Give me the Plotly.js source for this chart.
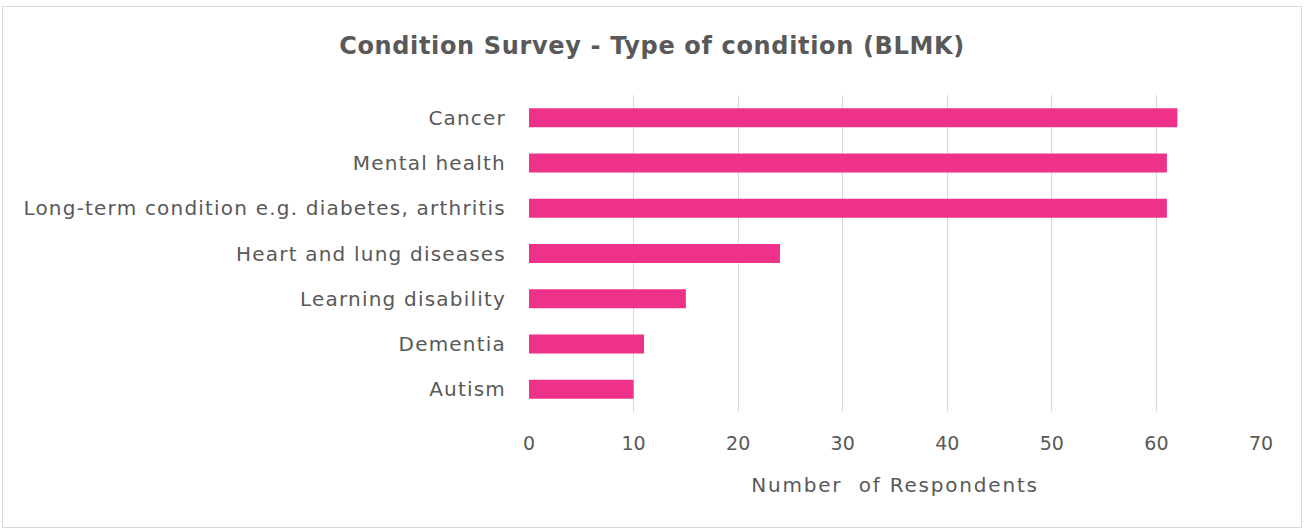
<!DOCTYPE html>
<html>
<head>
<meta charset="utf-8">
<script src="https://cdn.plot.ly/plotly-3.0.1.min.js"></script>
<style>
html,body{margin:0;padding:0;background:#fff;}
#wrap{position:relative;width:1304px;height:529px;}
#chart{position:absolute;left:0;top:0;width:1304px;height:529px;}
#frame{position:absolute;left:2px;top:6px;width:1298px;height:520px;border:1px solid #d9d9d9;pointer-events:none;}
#chart .ytick text{letter-spacing:1.2px;}
#chart .g-xtitle text{letter-spacing:1.8px;}
#chart .gtitle{letter-spacing:0.65px;}
</style>
</head>
<body>
<div id="wrap"><div id="chart"></div><div id="frame"></div></div>
<script>
const categories = ["Cancer","Mental health","Long-term condition e.g. diabetes, arthritis","Heart and lung diseases","Learning disability","Dementia","Autism"];
const respondents = [62, 61, 61, 24, 15, 11, 10];
const xTicks = [0,10,20,30,40,50,60,70];

const font = "'DejaVu Sans', sans-serif";
const trace = {
  type: 'bar',
  orientation: 'h',
  y: categories,
  x: respondents,
  marker: {color: '#EE3289'},
  hoverinfo: 'x+y'
};
const layout = {
  width: 1304, height: 529,
  margin: {l: 529, r: 43, t: 95, b: 117},
  paper_bgcolor: '#fff', plot_bgcolor: '#fff',
  bargap: 0.58,
  showlegend: false,
  title: {text: 'Condition Survey - Type of condition (BLMK)', x: 0.5, xanchor: 'center', y: 0.913, yanchor: 'middle',
          font: {family: font, size: 24, color: '#595959', weight: 'bold'}},
  xaxis: {range: [0, 70], tickvals: xTicks, ticktext: xTicks.map(String), showgrid: true, gridcolor: '#d9d9d9', gridwidth: 1,
          zeroline: false, showline: false, ticks: '', ticklen: 0,
          ticklabelstandoff: 18,
          tickfont: {family: font, size: 19, color: '#595959'},
          title: {text: 'Number  of Respondents', standoff: 24, font: {family: font, size: 20, color: '#595959'}}},
  yaxis: {autorange: 'reversed', showgrid: false, zeroline: false, showline: false, ticks: '',
          ticklabelstandoff: 22,
          tickfont: {family: font, size: 20, color: '#595959'}}
};
Plotly.newPlot('chart', [trace], layout, {displayModeBar: false, staticPlot: true});
</script>
</body>
</html>
